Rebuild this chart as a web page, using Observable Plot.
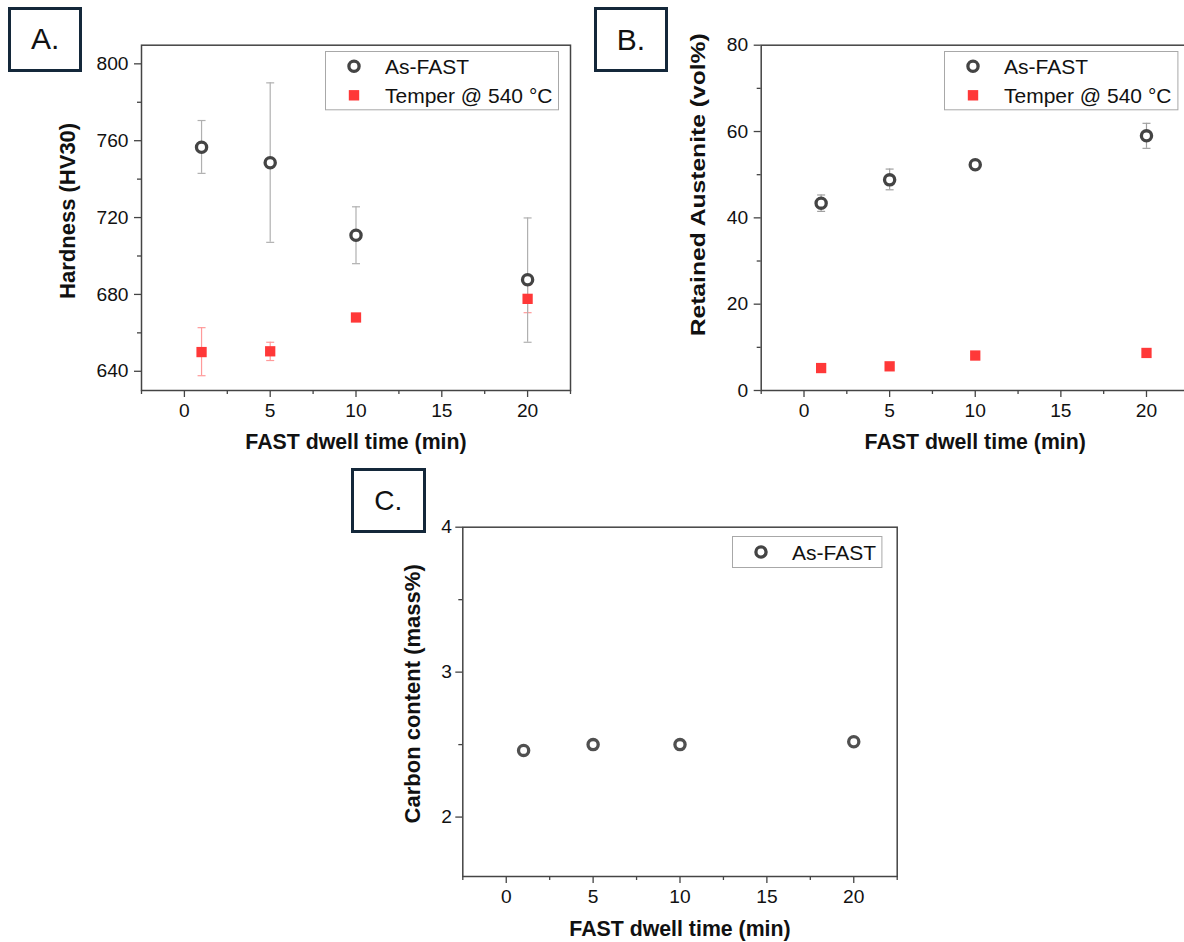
<!DOCTYPE html>
<html>
<head>
<meta charset="utf-8">
<script src="https://cdn.jsdelivr.net/npm/d3@7"></script>
<script src="https://cdn.jsdelivr.net/npm/@observablehq/plot@0.6"></script>
<style>
  html, body { margin: 0; padding: 0; background: #fff; overflow: hidden; }
  #root { position: relative; width: 1184px; height: 942px; overflow: hidden; background: #fff; }
  .tag { position: absolute; box-sizing: border-box; border: 3px solid #14283a; display: flex; align-items: center; justify-content: center; font-family: "Liberation Sans", Arial, sans-serif; color: #111; background: #fff; }
</style>
</head>
<body>
<div id="root"></div>
<script>
// ---------- data ----------
const dwellTimes = [1, 5, 10, 20];
const seriesNames = ["As-FAST", "Temper @ 540 °C"];
const xTitle = "FAST dwell time (min)";
const xMajorTicks = [0, 5, 10, 15, 20];
const xMinorTicks = [-2.5, 2.5, 7.5, 12.5, 17.5, 22.5];

// Panel A: hardness
const hardnessAsFast   = [756.6, 748.5, 710.8, 687.6];
const hardnessAsFastLo = [743.0, 707.1, 696.0, 655.1];
const hardnessAsFastHi = [770.5, 790.1, 725.6, 719.8];
const hardnessTemper   = [650.0, 650.4, 668.0, 677.7];
const hardnessTemperLo = [637.7, 645.6, 667.2, 670.5];
const hardnessTemperHi = [662.7, 655.1, 668.8, 685.0];
const hardnessMajorTicks = [640, 680, 720, 760, 800];
const hardnessMinorTicks = [660, 700, 740, 780];

// Panel B: retained austenite
const raAsFast   = [43.4, 48.8, 52.3, 59.0];
const raAsFastLo = [41.5, 46.5, 51.6, 56.1];
const raAsFastHi = [45.3, 51.3, 53.0, 61.9];
const raTemper   = [5.2, 5.6, 8.1, 8.7];
const raMajorTicks = [0, 20, 40, 60, 80];
const raMinorTicks = [10, 30, 50, 70];

// Panel C: carbon content
const carbonAsFast = [2.46, 2.50, 2.50, 2.52];
const carbonMajorTicks = [2, 3, 4];
const carbonMinorTicks = [2.5, 3.5];

// ---------- helpers ----------
const FONT = '"Liberation Sans", Arial, Helvetica, sans-serif';
const AXIS = "#444";
const CIRCLE = "#444";
const RED = "#ff3838";
const TICKFS = 19.2;
const root = document.getElementById("root");

const rows = (ys, lo, hi) => dwellTimes.map((t, i) => ({t, y: ys[i], lo: lo ? lo[i] : null, hi: hi ? hi[i] : null}));
const cap = {draw(ctx) { ctx.moveTo(-4, 0); ctx.lineTo(4, 0); }};
const fmt = d => String(d);

function errorMarks(data, color) {
  return [
    Plot.ruleX(data, {x: "t", y1: "lo", y2: "hi", stroke: color, strokeWidth: 1.2}),
    Plot.dot(data, {x: "t", y: "lo", symbol: cap, fill: "none", stroke: color, strokeWidth: 1.2}),
    Plot.dot(data, {x: "t", y: "hi", symbol: cap, fill: "none", stroke: color, strokeWidth: 1.2})
  ];
}
const circles = (data, color = CIRCLE) => Plot.dot(data, {x: "t", y: "y", r: 5.1, stroke: color, strokeWidth: 3.3, fill: "white"});
const squares = (data) => Plot.dot(data, {x: "t", y: "y", symbol: "square", r: 5.8, fill: RED, stroke: "none"});

function panel(o) {
  const svg = Plot.plot({
    width: o.width, height: o.height,
    marginLeft: o.ml, marginRight: o.mr, marginTop: o.mt, marginBottom: o.mb,
    x: {domain: [-2.5, 22.5]},
    y: {domain: o.yDomain},
    style: {fontFamily: FONT, fontSize: TICKFS + "px", color: "#111", background: "transparent", maxWidth: "none", overflow: "visible"},
    marks: [
      Plot.axisX({ticks: xMajorTicks, tickSize: 7, tickPadding: 5.5, tickFormat: fmt, stroke: AXIS, strokeWidth: 1.3, fontSize: TICKFS, label: null}),
      Plot.axisX({ticks: xMinorTicks, tickSize: 4, tickFormat: () => "", stroke: AXIS, strokeWidth: 1.3, label: null}),
      Plot.axisY({ticks: o.yMajor, tickSize: 7, tickPadding: o.yPad, tickFormat: fmt, stroke: AXIS, strokeWidth: 1.3, fontSize: TICKFS, label: null}),
      Plot.axisY({ticks: o.yMinor, tickSize: 4, tickFormat: () => "", stroke: AXIS, strokeWidth: 1.3, label: null}),
      Plot.frame({stroke: AXIS, strokeWidth: 1.5}),
      ...o.marks,
      Plot.text([xTitle], {text: d => d, frameAnchor: "bottom", dy: o.xTitleDy, lineAnchor: "middle", textAnchor: "middle",
        fontWeight: "bold", fontSize: 21.3, fill: "#111"}),
      Plot.text([o.yTitle], {text: d => d, frameAnchor: "left", rotate: -90, dx: o.yTitleDx, dy: o.yTitleDy, lineAnchor: "middle", textAnchor: "middle",
        fontWeight: "bold", fontSize: o.yTitleSize, fill: "#111"})
    ]
  });
  svg.style.position = "absolute";
  svg.style.left = o.left + "px";
  svg.style.top = o.top + "px";
  svg.querySelectorAll("text").forEach(t => {
    const s = t.textContent;
    if (s === xTitle) { t.style.fontSize = "21.3px"; }
    else if (s === o.yTitle) {
      t.style.fontSize = o.yTitleSize + "px";
      if (o.yTitleLength) { t.setAttribute("textLength", o.yTitleLength); t.setAttribute("lengthAdjust", "spacingAndGlyphs"); }
    } else {
      t.style.fontSize = TICKFS + "px";
      t.style.fill = "#111";
    }
  });
  root.appendChild(svg);
}

function legend(left, top, w, h, items) {
  const svg = d3.create("svg").attr("width", w).attr("height", h)
    .style("position", "absolute").style("left", left + "px").style("top", top + "px").style("overflow", "visible");
  svg.append("rect").attr("x", 0.5).attr("y", 0.5).attr("width", w - 1).attr("height", h - 1)
    .attr("fill", "white").attr("stroke", "#a8a8a8").attr("stroke-width", 1);
  items.forEach(it => {
    const cy = it.cy;
    if (it.kind === "circle") {
      svg.append("circle").attr("cx", 29).attr("cy", cy).attr("r", 5.1).attr("fill", "white").attr("stroke", CIRCLE).attr("stroke-width", 3.3);
    } else {
      svg.append("rect").attr("x", 29 - 5.2).attr("y", cy - 5.2).attr("width", 10.4).attr("height", 10.4).attr("fill", RED);
    }
    svg.append("text").attr("x", 60).attr("y", cy + 7.6).attr("font-family", FONT).attr("font-size", 21)
      .attr("fill", "#111").text(it.name);
  });
  root.appendChild(svg.node());
}

function tag(label, left, top, w, h, fs) {
  const d = document.createElement("div");
  d.className = "tag";
  d.style.left = left + "px"; d.style.top = top + "px";
  d.style.width = w + "px"; d.style.height = h + "px";
  d.style.fontSize = fs + "px";
  d.textContent = label;
  root.appendChild(d);
}

// ---------- Panel A ----------
const aAs = rows(hardnessAsFast, hardnessAsFastLo, hardnessAsFastHi);
const aTe = rows(hardnessTemper, hardnessTemperLo, hardnessTemperHi);
panel({
  left: 0, top: 0, width: 580, height: 470, ml: 141, mr: 10, mt: 44.7, mb: 80,
  yDomain: [630, 809.7], yMajor: hardnessMajorTicks, yMinor: hardnessMinorTicks, yPad: 6,
  yTitle: "Hardness (HV30)", yTitleSize: 22, yTitleDx: -74, yTitleDy: -7, xTitleDy: 52,
  marks: [...errorMarks(aTe, "#ff9a9a"), ...errorMarks(aAs, "#b0b0b0"), circles(aAs), squares(aTe)]
});

// ---------- Panel B ----------
const bAs = rows(raAsFast, raAsFastLo, raAsFastHi);
const bTe = rows(raTemper);
panel({
  left: 600, top: 0, width: 600, height: 470, ml: 160.7, mr: 11.2, mt: 44.7, mb: 80,
  yDomain: [0, 80], yMajor: raMajorTicks, yMinor: raMinorTicks, yPad: 6,
  yTitle: "Retained Austenite (vol%)", yTitleSize: 21, yTitleLength: 303, yTitleDx: -63.2, yTitleDy: -33, xTitleDy: 52,
  marks: [...errorMarks(bAs, "#a0a0a0"), circles(bAs), squares(bTe)]
});

// ---------- Panel C ----------
const cAs = rows(carbonAsFast);
panel({
  left: 330, top: 470, width: 590, height: 472, ml: 132.3, mr: 23.3, mt: 56.7, mb: 66,
  yDomain: [1.59, 4], yMajor: carbonMajorTicks, yMinor: carbonMinorTicks, yPad: 4,
  yTitle: "Carbon content (mass%)", yTitleSize: 22, yTitleDx: -49.6, yTitleDy: -8, xTitleDy: 53,
  marks: [circles(cAs, "#505050")]
});

// ---------- legends ----------
legend(325.3, 50.7, 234, 59.3, [{name: seriesNames[0], kind: "circle", cy: 15.3}, {name: seriesNames[1], kind: "square", cy: 44.3}]);
legend(944.3, 50.7, 234.4, 59.3, [{name: seriesNames[0], kind: "circle", cy: 15.3}, {name: seriesNames[1], kind: "square", cy: 44.3}]);
legend(732.3, 535.7, 150.4, 32, [{name: seriesNames[0], kind: "circle", cy: 16}]);

// ---------- panel tags ----------
tag("A.", 8.3, 7.3, 74, 64.4, 30);
tag("B.", 594, 7.3, 73.7, 64.7, 30);
tag("C.", 350.7, 468.3, 75, 65, 28);
</script>
</body>
</html>
